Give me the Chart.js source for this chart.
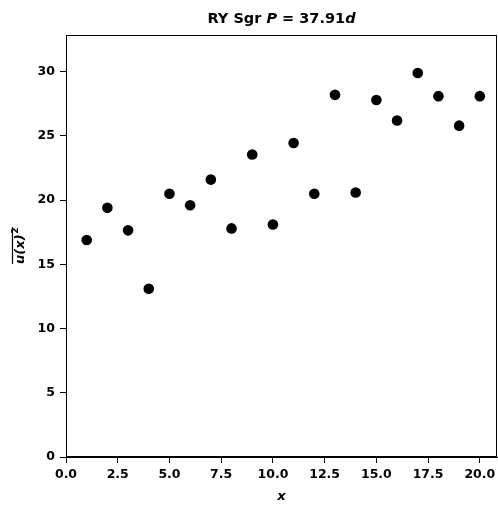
<!DOCTYPE html>
<html>
<head>
<meta charset="utf-8">
<script src="https://cdn.jsdelivr.net/npm/chart.js@4.4.1/dist/chart.umd.min.js"></script>
<style>
html,body{margin:0;padding:0;background:#fff;}
#wrap{width:498px;height:506px;}
</style>
</head>
<body>
<div id="wrap"><canvas id="c" width="498" height="506"></canvas></div>
<script>
const xValues = [1,2,3,4,5,6,7,8,9,10,11,12,13,14,15,16,17,18,19,20];
const yValues = [16.9,19.4,17.65,13.1,20.5,19.6,21.6,17.8,23.55,18.1,24.45,20.5,28.2,20.6,27.8,26.2,29.9,28.1,25.8,28.1];
const xTicks = [0,2.5,5,7.5,10,12.5,15,17.5,20];
const yTicks = [0,5,10,15,20,25,30];
const titleParts = [["RY Sgr ", "bold"], ["P", "italic bold"], [" = 37.91", "bold"], ["d", "italic bold"]];

const FONT = "DejaVu Sans";

const decor = {
  id: 'decor',
  afterDraw(chart) {
    const {ctx, chartArea: a} = chart;
    ctx.save();
    ctx.strokeStyle = '#000';
    ctx.lineWidth = 1;
    ctx.strokeRect(a.left + 0.5, a.top + 0.5, a.right - a.left - 1, a.bottom - a.top - 1);
    ctx.fillStyle = '#000';
    ctx.textBaseline = 'middle';
    let total = 0;
    for (const [t, st] of titleParts) { ctx.font = st + ' 14.5px ' + FONT; total += ctx.measureText(t).width; }
    let x = (a.left + a.right) / 2 - total / 2;
    for (const [t, st] of titleParts) {
      ctx.font = st + ' 14.5px ' + FONT;
      ctx.textAlign = 'left';
      ctx.fillText(t, x, 19);
      x += ctx.measureText(t).width;
    }
    ctx.font = 'italic bold 13px ' + FONT;
    ctx.textAlign = 'center';
    ctx.fillText('x', (a.left + a.right) / 2, 497);
    ctx.translate(19, (a.top + a.bottom) / 2);
    ctx.rotate(-Math.PI / 2);
    ctx.font = 'italic bold 13px ' + FONT;
    const base = 'u(x)';
    const w1 = ctx.measureText(base).width;
    ctx.font = 'bold 9px ' + FONT;
    const w2 = ctx.measureText('2').width;
    const start = -(w1 + w2) / 2;
    ctx.font = 'italic bold 13px ' + FONT;
    ctx.textAlign = 'left';
    ctx.textBaseline = 'alphabetic';
    ctx.fillText(base, start, 5);
    ctx.font = 'bold 9px ' + FONT;
    ctx.fillText('2', start + w1 + 0.5, -1.5);
    ctx.beginPath();
    ctx.moveTo(start, -6.5);
    ctx.lineTo(start + w1 + w2 + 1, -6.5);
    ctx.lineWidth = 1.2;
    ctx.stroke();
    ctx.restore();
  }
};

new Chart(document.getElementById('c'), {
  type: 'scatter',
  data: {
    datasets: [{
      data: xValues.map((x, i) => ({x: x, y: yValues[i]})),
      backgroundColor: '#000',
      borderColor: '#000',
      pointRadius: 5.3,
      pointHoverRadius: 5.3,
      borderWidth: 0
    }]
  },
  options: {
    responsive: false,
    animation: false,
    events: [],
    layout: {autoPadding: false, padding: {top: 35, right: 1, left: 0, bottom: 0}},
    plugins: {legend: {display: false}, title: {display: false}, tooltip: {enabled: false}},
    scales: {
      x: {
        type: 'linear',
        min: 0, max: 20.83,
        afterBuildTicks(s) { s.ticks = xTicks.map(v => ({value: v})); },
        afterFit(s) { s.height = 49; s.paddingLeft = 0; s.paddingRight = 0; },
        grid: {drawOnChartArea: false, drawTicks: true, tickLength: 6, color: '#000'},
        border: {color: '#000'},
        ticks: {color: '#000', font: {family: FONT, size: 12.5, weight: 'bold'}, padding: 4, maxRotation: 0,
          callback: v => Number(v).toFixed(1)}
      },
      y: {
        type: 'linear',
        min: 0, max: 32.86,
        afterBuildTicks(s) { s.ticks = yTicks.map(v => ({value: v})); },
        afterFit(s) { s.width = 66; s.paddingTop = 0; s.paddingBottom = 0; },
        grid: {drawOnChartArea: false, drawTicks: true, tickLength: 6, color: '#000'},
        border: {color: '#000'},
        ticks: {color: '#000', font: {family: FONT, size: 12.5, weight: 'bold'}, padding: 5,
          callback: v => String(v)}
      }
    }
  },
  plugins: [decor]
});
</script>
</body>
</html>
